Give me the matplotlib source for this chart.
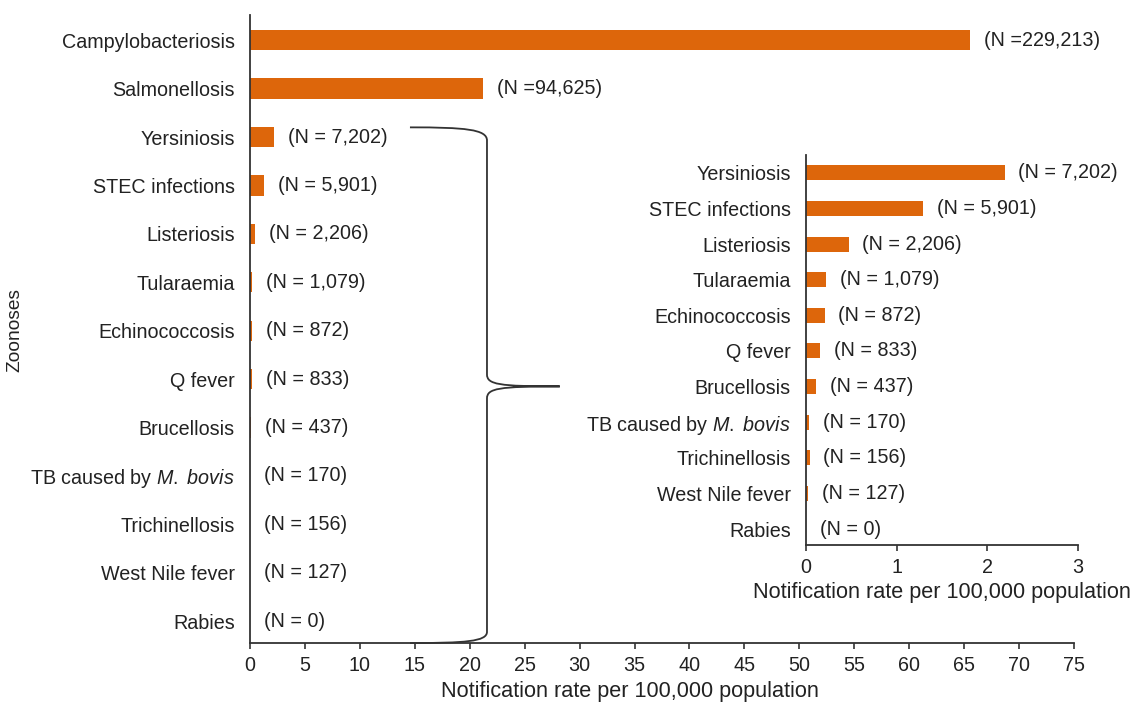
import matplotlib
matplotlib.use("Agg")
import matplotlib.pyplot as plt
from matplotlib.path import Path
from matplotlib.patches import PathPatch

plt.rcParams['font.family'] = ['Liberation Sans', 'DejaVu Sans']
plt.rcParams['mathtext.fontset'] = 'custom'
plt.rcParams['mathtext.rm'] = 'Liberation Sans'
plt.rcParams['mathtext.it'] = 'Liberation Sans:italic'

# notification rate per 100,000 population
diseases = ['Campylobacteriosis', 'Salmonellosis', 'Yersiniosis', 'STEC infections',
            'Listeriosis', 'Tularaemia', 'Echinococcosis', 'Q fever', 'Brucellosis',
            r'TB caused by $\it{M.\ bovis}$', 'Trichinellosis', 'West Nile fever', 'Rabies']
rates = [65.5, 21.2, 2.19, 1.29, 0.47, 0.225, 0.205, 0.16, 0.11, 0.035, 0.04, 0.025, 0.0]
case_labels = ['(N =229,213)', '(N =94,625)', '(N = 7,202)', '(N = 5,901)', '(N = 2,206)',
               '(N = 1,079)', '(N = 872)', '(N = 833)', '(N = 437)', '(N = 170)',
               '(N = 156)', '(N = 127)', '(N = 0)']

bar_color = '#DD660B'
txt_color = '#222222'
fs = 14.2
fs_lab = 15.6

fig = plt.figure(figsize=(11.4, 7.02), dpi=100)
fig.patch.set_facecolor('white')


def style_axes(ax):
    for s in ['top', 'right']:
        ax.spines[s].set_visible(False)
    for s in ['left', 'bottom']:
        ax.spines[s].set_color('#333333')
        ax.spines[s].set_linewidth(1.3)
    ax.tick_params(axis='y', length=0, pad=11, labelsize=fs, colors=txt_color)
    ax.tick_params(axis='x', length=4, width=1.2, pad=5, labelsize=fs,
                   colors=txt_color, color='#333333')


def draw_bars(ax, names, vals, labels):
    pos = list(range(len(names)))
    ax.barh(pos, vals, height=0.42, color=bar_color)
    ax.set_yticks(pos)
    ax.set_yticklabels(names)
    for p, v, lab in zip(pos, vals, labels):
        ax.annotate(lab, xy=(v, p), xytext=(10, 0), textcoords='offset points',
                    va='center', ha='left', fontsize=fs, color=txt_color)


# main panel
ax = fig.add_axes([0.2193, 0.084, 0.7228, 0.8946])
draw_bars(ax, diseases, rates, case_labels)
ax.set_xlim(0, 75)
ax.set_xticks(range(0, 80, 5))
ax.set_ylim(12.45, -0.52)
style_axes(ax)

fig.text(0.013, 0.53, 'Zoonoses', rotation=90, ha='center', va='center',
         fontsize=13.8, color=txt_color)
fig.text(0.553, 0.0, 'Notification rate per 100,000 population', ha='center',
         va='bottom', fontsize=fs_lab, color=txt_color)

# brace linking the small diseases to the zoomed panel
brace = [
    (14.56, 1.80), (19.56, 1.80), (21.57, 1.84), (21.57, 2.07),
    (21.57, 6.90),
    (21.57, 7.11), (22.6, 7.15), (28.2, 7.15),
    (22.6, 7.15), (21.57, 7.19), (21.57, 7.40),
    (21.57, 12.22),
    (21.57, 12.42), (19.56, 12.45), (14.56, 12.45),
]
codes = [Path.MOVETO, Path.CURVE4, Path.CURVE4, Path.CURVE4,
         Path.LINETO,
         Path.CURVE4, Path.CURVE4, Path.CURVE4,
         Path.CURVE4, Path.CURVE4, Path.CURVE4,
         Path.LINETO,
         Path.CURVE4, Path.CURVE4, Path.CURVE4]
ax.add_patch(PathPatch(Path(brace, codes), facecolor='none', edgecolor='#333333',
                       lw=1.3, clip_on=False))

# zoomed panel
ax2 = fig.add_axes([0.707, 0.2236, 0.2386, 0.5556])
ax2.set_facecolor('none')
draw_bars(ax2, diseases[2:], rates[2:], case_labels[2:])
ax2.set_xlim(0, 3)
ax2.set_xticks([0, 1, 2, 3])
ax2.set_ylim(10.45, -0.5)
style_axes(ax2)
ax2.set_xlabel('Notification rate per 100,000 population', fontsize=fs_lab,
               color=txt_color, labelpad=4)

fig.savefig('out.png', dpi=100)
